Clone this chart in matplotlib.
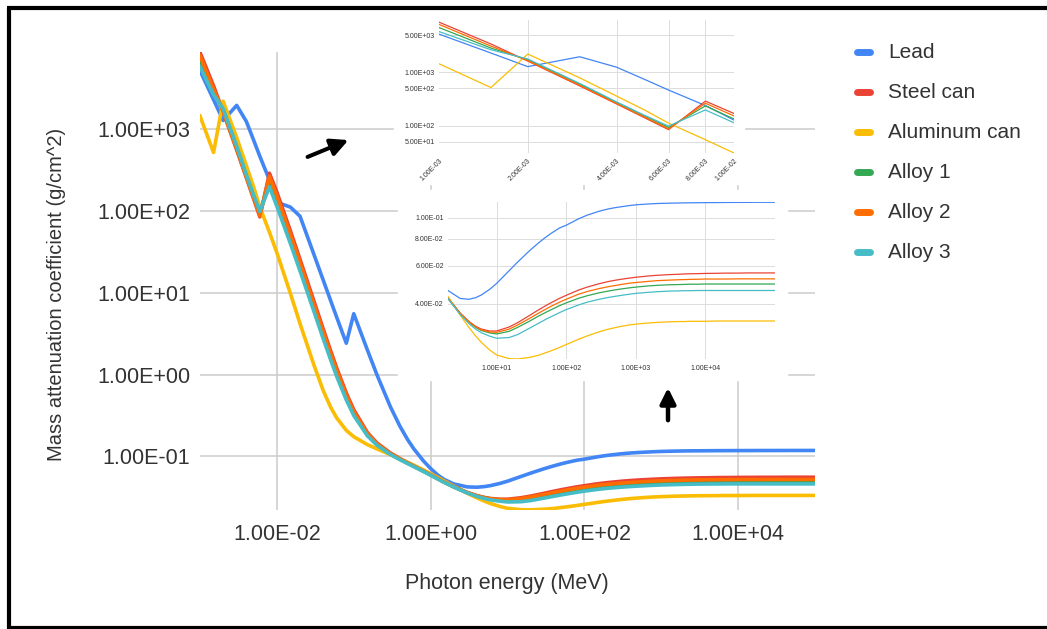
import matplotlib
matplotlib.use('Agg')
import matplotlib.pyplot as plt
from matplotlib.ticker import NullLocator
from matplotlib.patches import Rectangle, FancyArrowPatch
from matplotlib.lines import Line2D

plt.rcParams['font.family'] = ['Liberation Sans', 'DejaVu Sans']

# photon energy grid (MeV)
energy = [1e-3, 1.5e-3, 2e-3, 3e-3, 4e-3, 5e-3, 6e-3, 8e-3, 1e-2,
          1.5e-2, 2e-2, 3e-2, 4e-2, 5e-2, 6e-2, 8e-2, 1e-1, 1.5e-1, 2e-1, 3e-1, 4e-1, 5e-1, 6e-1, 8e-1,
          1, 1.25, 1.5, 2, 3, 4, 5, 6, 8,
          10, 15, 20, 30, 40, 50, 60, 80,
          100, 150, 200, 300, 400, 500, 600, 800,
          1e3, 1.5e3, 2e3, 3e3, 4e3, 5e3, 6e3, 8e3,
          1e4, 1.5e4, 2e4, 3e4, 4e4, 5e4, 6e4, 8e4,
          1e5]

lead = [5200, 2300, 1280, 1960, 1250, 730, 467, 240, 128,
        111.6, 86.36, 30.32, 14.36, 8.041, 5.021, 2.419, 5.549, 2.014, 0.9985, 0.4031, 0.2323, 0.1614, 0.1248, 0.0887,
        0.07102, 0.05876, 0.05222, 0.04606, 0.04234, 0.04197, 0.04272, 0.04391, 0.04675,
        0.04972, 0.0568, 0.0624, 0.0707, 0.0766, 0.0811, 0.0846, 0.0898,
        0.0925, 0.0990, 0.1030, 0.1075, 0.1100, 0.1115, 0.1125, 0.1140,
        0.1150, 0.1160, 0.1166, 0.1170, 0.1172, 0.1174, 0.1175, 0.1176,
        0.1177, 0.1178, 0.1179, 0.1180, 0.1180, 0.1181, 0.1181, 0.1181,
        0.1182]

steel = [8700, 3400, 1626, 557.6, 256.7, 139.5, 84.84, 290, 170,
         57.08, 25.68, 8.176, 3.629, 1.958, 1.205, 0.5952, 0.3717, 0.1964, 0.146, 0.1099, 0.094, 0.08414, 0.07704, 0.06699,
         0.05995, 0.0535, 0.04883, 0.04265, 0.03621, 0.03312, 0.03146, 0.03057, 0.02991,
         0.02994, 0.0312, 0.0327, 0.0354, 0.0375, 0.0391, 0.0404, 0.0424,
         0.0438, 0.0463, 0.0478, 0.0496, 0.0507, 0.0514, 0.0519, 0.0526,
         0.0531, 0.0538, 0.0542, 0.0546, 0.0548, 0.0550, 0.0551, 0.0552,
         0.0553, 0.0554, 0.0555, 0.0555, 0.0556, 0.0556, 0.0556, 0.0556,
         0.0556]

aluminum = [1450, 520, 2200, 790, 360, 195, 112, 55, 31,
            9.8, 4.2, 1.35, 0.64, 0.40, 0.295, 0.208, 0.174, 0.1395, 0.1235, 0.1048, 0.0931, 0.0847, 0.0782, 0.0685,
            0.06146, 0.05496, 0.05006, 0.04324, 0.03541, 0.03106, 0.02836, 0.02655, 0.02437,
            0.02318, 0.0223, 0.0222, 0.0226, 0.0231, 0.0237, 0.0242, 0.0251,
            0.0259, 0.0274, 0.0284, 0.0297, 0.0305, 0.0310, 0.0314, 0.0319,
            0.0322, 0.0326, 0.0328, 0.0330, 0.0331, 0.0331, 0.0332, 0.0332,
            0.0332, 0.0333, 0.0333, 0.0333, 0.0333, 0.0333, 0.0333, 0.0333,
            0.0333]

alloy1 = [6900, 2850, 1720, 600, 270, 150, 93, 236, 134,
          46, 21, 6.8, 3.05, 1.67, 1.04, 0.525, 0.335, 0.185, 0.140, 0.107, 0.0920, 0.0826, 0.0758, 0.0661,
          0.0592, 0.0529, 0.0483, 0.0423, 0.0359, 0.0328, 0.0311, 0.0301, 0.0293,
          0.0290, 0.0298, 0.0311, 0.0333, 0.0351, 0.0364, 0.0375, 0.0392,
          0.0404, 0.0424, 0.0436, 0.0450, 0.0458, 0.0464, 0.0468, 0.0474,
          0.0478, 0.0484, 0.0487, 0.0490, 0.0491, 0.0492, 0.0493, 0.0493,
          0.0494, 0.0494, 0.0494, 0.0494, 0.0494, 0.0494, 0.0494, 0.0494,
          0.0494]

alloy2 = [7900, 3100, 1660, 575, 262, 144, 88, 265, 153,
          52, 23.5, 7.5, 3.35, 1.82, 1.13, 0.562, 0.354, 0.191, 0.143, 0.108, 0.0930, 0.0834, 0.0764, 0.0665,
          0.0596, 0.0532, 0.0486, 0.0425, 0.0361, 0.0330, 0.0313, 0.0303, 0.0296,
          0.0295, 0.0305, 0.0319, 0.0343, 0.0362, 0.0377, 0.0389, 0.0407,
          0.0420, 0.0443, 0.0456, 0.0471, 0.0480, 0.0486, 0.0491, 0.0498,
          0.0502, 0.0508, 0.0512, 0.0515, 0.0517, 0.0518, 0.0519, 0.0520,
          0.0521, 0.0521, 0.0521, 0.0522, 0.0522, 0.0522, 0.0522, 0.0522,
          0.0522]

alloy3 = [5800, 2650, 1780, 620, 280, 155, 99, 198, 114,
          40, 18.5, 6.1, 2.75, 1.52, 0.95, 0.49, 0.316, 0.179, 0.137, 0.1055, 0.0910, 0.0818, 0.0751, 0.0656,
          0.0588, 0.0526, 0.0481, 0.0422, 0.0357, 0.0324, 0.0305, 0.0294, 0.0283,
          0.0277, 0.0279, 0.0288, 0.0309, 0.0325, 0.0338, 0.0348, 0.0364,
          0.0376, 0.0395, 0.0407, 0.0420, 0.0428, 0.0433, 0.0437, 0.0443,
          0.0447, 0.0452, 0.0455, 0.0458, 0.0459, 0.0460, 0.0460, 0.0461,
          0.0461, 0.0461, 0.0461, 0.0461, 0.0461, 0.0461, 0.0461, 0.0461,
          0.0461]

names = ['Lead', 'Steel can', 'Aluminum can', 'Alloy 1', 'Alloy 2', 'Alloy 3']
series = [lead, steel, aluminum, alloy1, alloy2, alloy3]
colors = ['#4285F4', '#EA4335', '#FBBC04', '#34A853', '#FF6D01', '#46BDC6']

main_xticks = [1e-2, 1, 1e2, 1e4]
main_xlabels = ['1.00E-02', '1.00E+00', '1.00E+02', '1.00E+04']
main_yticks = [1e-1, 1, 10, 100, 1000]
main_ylabels = ['1.00E-01', '1.00E+00', '1.00E+01', '1.00E+02', '1.00E+03']

in1_xticks = [1e-3, 2e-3, 4e-3, 6e-3, 8e-3, 1e-2]
in1_xlabels = ['1.00E-03', '2.00E-03', '4.00E-03', '6.00E-03', '8.00E-03', '1.00E-02']
in1_yticks = [50, 100, 500, 1000, 5000]
in1_ylabels = ['5.00E+01', '1.00E+02', '5.00E+02', '1.00E+03', '5.00E+03']

in2_xticks = [10, 100, 1e3, 1e4, 1e5]
in2_xlabels = ['1.00E+01', '1.00E+02', '1.00E+03', '1.00E+04', '']
in2_yticks = [0.04, 0.06, 0.08, 0.1]
in2_ylabels = ['4.00E-02', '6.00E-02', '8.00E-02', '1.00E-01']

W, H = 1047, 629
txt = '#333333'


def box(x0, y0, x1, y1):
    # pixel box (top-left origin) -> figure fraction rect
    return [x0 / W, 1 - y1 / H, (x1 - x0) / W, (y1 - y0) / H]


def pt(x, y):
    return (x / W, 1 - y / H)


def style_axes(a, xt, xl, yt, yl, size, gcol, glw):
    a.set_xscale('log')
    a.set_yscale('log')
    a.set_xticks(xt)
    a.set_xticklabels(xl)
    a.set_yticks(yt)
    a.set_yticklabels(yl)
    a.xaxis.set_minor_locator(NullLocator())
    a.yaxis.set_minor_locator(NullLocator())
    for s in a.spines.values():
        s.set_visible(False)
    a.tick_params(length=0, labelsize=size, colors=txt)
    a.grid(True, color=gcol, lw=glw)
    a.set_axisbelow(True)


fig = plt.figure(figsize=(W / 100, H / 100), dpi=100)

# main chart
ax = fig.add_axes(box(200, 52, 815, 510))
style_axes(ax, main_xticks, main_xlabels, main_yticks, main_ylabels, 15.5, '#cccccc', 1.1)
ax.tick_params(axis='x', pad=10)
ax.tick_params(axis='y', pad=7)
for vals, c in zip(series, colors):
    ax.plot(energy, vals, color=c, lw=2.6)
ax.set_xlim(1e-3, 1e5)
ax.set_ylim(0.0221, 8800)

fig.text(57 / W, 1 - 294 / H, 'Mass attenuation coefficient (g/cm^2)', rotation=90,
         ha='center', va='center', fontsize=14.5, color=txt)
fig.text(507 / W, 1 - 583 / H, 'Photon energy (MeV)', ha='center', va='center',
         fontsize=15.5, color=txt)

# white backgrounds of the pasted zoom-ins
fig.add_artist(Rectangle(pt(394, 184), 350 / W, 172 / H, transform=fig.transFigure,
                         color='white', zorder=1))
fig.add_artist(Rectangle(pt(398, 380), 389 / W, 190 / H, transform=fig.transFigure,
                         color='white', zorder=1))

# zoom-in: low energies
lo = [i for i, e in enumerate(energy) if e <= 1e-2]
ax1 = fig.add_axes(box(439, 20, 734, 153), zorder=2)
style_axes(ax1, in1_xticks, in1_xlabels, in1_yticks, in1_ylabels, 5, '#dcdcdc', 0.7)
for vals, c in zip(series, colors):
    ax1.plot([energy[i] for i in lo], [vals[i] for i in lo], color=c, lw=0.9)
ax1.set_xlim(1e-3, 1e-2)
ax1.set_ylim(31, 9550)
ax1.get_xgridlines()[0].set_visible(False)
ax1.tick_params(axis='y', pad=3)
ax1.tick_params(axis='x', pad=3)
for lab in ax1.get_xticklabels():
    lab.set_rotation(45)
    lab.set_ha('right')
    lab.set_rotation_mode('anchor')

# zoom-in: high energies
hi = [i for i, e in enumerate(energy) if e >= 2]
ax2 = fig.add_axes(box(448, 202, 775, 359), zorder=2)
style_axes(ax2, in2_xticks, in2_xlabels, in2_yticks, in2_ylabels, 5, '#dcdcdc', 0.7)
for vals, c in zip(series, colors):
    ax2.plot([energy[i] for i in hi], [vals[i] for i in hi], color=c, lw=0.9)
ax2.set_xlim(2, 1e5)
ax2.set_ylim(0.0222, 0.1185)
ax2.tick_params(axis='y', pad=3)
ax2.tick_params(axis='x', pad=4)

# arrows
fig.add_artist(FancyArrowPatch(pt(305, 158), pt(351, 139), transform=fig.transFigure,
                               arrowstyle='-|>', mutation_scale=26, lw=2.9,
                               color='black', zorder=5))
fig.add_artist(FancyArrowPatch(pt(668, 423), pt(668, 385), transform=fig.transFigure,
                               arrowstyle='-|>', mutation_scale=23, lw=3.2,
                               color='black', zorder=5))

# legend
for i, (name, c) in enumerate(zip(names, colors)):
    y = 52 + 40 * i
    fig.add_artist(Line2D([857 / W, 870 / W], [1 - y / H, 1 - y / H], transform=fig.transFigure,
                          color=c, lw=5, solid_capstyle='round'))
    fig.text(888 / W, 1 - y / H, name, ha='left', va='center', fontsize=15, color=txt)

# frame
for xs, ys in [([9, 9], [8, 629]), ([7, 1047], [8, 8]), ([7, 1047], [628, 628])]:
    fig.add_artist(Line2D([x / W for x in xs], [1 - y / H for y in ys], transform=fig.transFigure,
                          color='black', lw=3, solid_capstyle='butt'))

fig.savefig('out.png', dpi=100)
